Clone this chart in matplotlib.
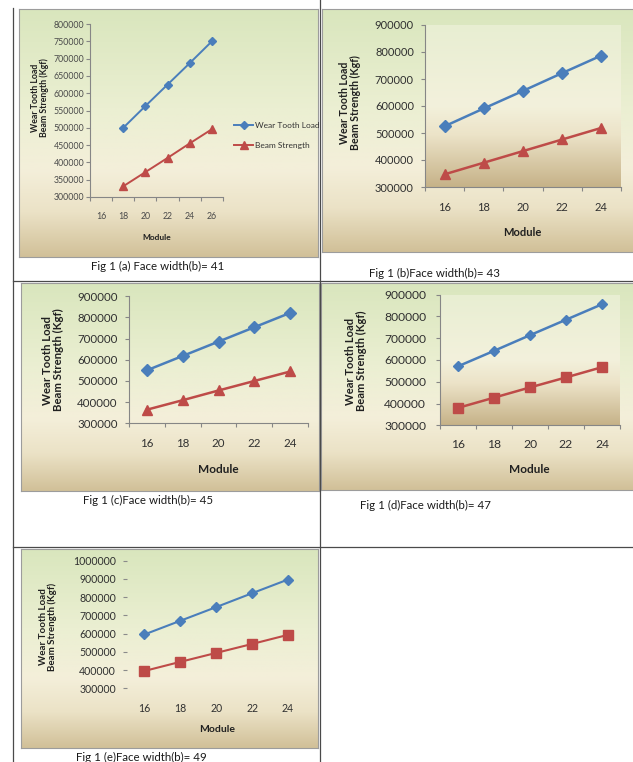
import numpy as np
import matplotlib
matplotlib.use("Agg")
import matplotlib.pyplot as plt
from matplotlib.colors import LinearSegmentedColormap
from matplotlib.lines import Line2D

plt.rcParams['font.family'] = ['Lato', 'DejaVu Sans']

W, H = 633, 762

# ---------------- data ----------------
modules_a = [16, 18, 20, 22, 24, 26]
wear_a = [np.nan, 500000, 563000, 625000, 687000, 750000]
beam_a = [np.nan, 331000, 372000, 413000, 455000, 496000]

modules = [16, 18, 20, 22, 24]
wear_b = [525000, 591000, 656000, 722000, 787000]
beam_b = [347000, 390000, 433000, 476000, 519000]
wear_c = [550000, 618000, 686000, 754000, 822000]
beam_c = [364000, 409000, 455000, 500000, 545000]
wear_d = [571000, 642000, 714000, 785000, 856000]
beam_d = [380000, 427000, 474000, 520000, 567000]
wear_e = [596000, 671000, 746000, 822000, 897000]
beam_e = [396000, 446000, 495000, 544000, 594000]

yticks_a = [300000, 350000, 400000, 450000, 500000, 550000, 600000, 650000, 700000, 750000, 800000]
yticks_bcd = [300000, 400000, 500000, 600000, 700000, 800000, 900000]
yticks_e = [300000, 400000, 500000, 600000, 700000, 800000, 900000, 1000000]

captions = ["Fig 1 (a) Face width(b)= 41", "Fig 1 (b)Face width(b)= 43",
            "Fig 1 (c)Face width(b)= 45", "Fig 1 (d)Face width(b)= 47",
            "Fig 1 (e)Face width(b)= 49"]
series_names = ["Wear Tooth Load", "Beam Strength"]
y_label = "Wear Tooth Load\nBeam Strength (Kgf)"
x_label = "Module"

BLUE = '#4a7ebb'
RED = '#be4b48'

fig = plt.figure(figsize=(W / 100, H / 100), dpi=100)
fig.patch.set_facecolor('white')


def frac(x0, y0, x1, y1):
    return [x0 / W, 1 - y1 / H, (x1 - x0) / W, (y1 - y0) / H]


bg_cmap = LinearSegmentedColormap.from_list(
    'bg', [(0, '#d9e6bd'), (0.4, '#ebefd2'), (0.65, '#f4efda'), (0.82, '#ebe2c6'), (1, '#d1c098')])
pa_cmap = LinearSegmentedColormap.from_list(
    'pa', [(0, '#e8eed2'), (0.5, '#f3f1dc'), (0.68, '#ece3c8'), (1, '#c6b288')])
grad = np.linspace(0, 1, 256).reshape(-1, 1)


def add_bg(x0, y0, x1, y1):
    bax = fig.add_axes(frac(x0, y0, x1, y1), zorder=0)
    bax.imshow(grad, aspect='auto', cmap=bg_cmap, extent=[0, 1, 0, 1], origin='upper')
    bax.set_xticks([])
    bax.set_yticks([])
    for s in bax.spines.values():
        s.set_color('#9c9c9c')
        s.set_linewidth(0.8)
    return bax


def hline(y, x0, x1):
    fig.add_artist(Line2D([x0 / W, x1 / W], [1 - y / H, 1 - y / H], transform=fig.transFigure,
                          color='#4a4a4a', lw=0.9))


def vline(x, y0, y1):
    fig.add_artist(Line2D([x / W, x / W], [1 - y0 / H, 1 - y1 / H], transform=fig.transFigure,
                          color='#4a4a4a', lw=0.9))


def panel(box, bg, xs, wear, beam, bmark, yticks, fs_tick, fs_lab, fs_mod,
          ypad, xpad, ylab_xy, mod_xy, ms_d, ms_b, lw, spines=True, inner=False, tickcol='#303030'):
    add_bg(*bg)
    x0, y0, x1, y1 = box
    ax = fig.add_axes(frac(x0, y0, x1, y1), zorder=2)
    ax.patch.set_alpha(0)
    xlim = (xs[0] - 1, xs[-1] + 1)
    ylim = (yticks[0], yticks[-1])
    if inner:
        ax.imshow(grad, aspect='auto', cmap=pa_cmap, origin='upper',
                  extent=[xlim[0], xlim[1], ylim[0], ylim[1]], zorder=0)
    ax.plot(xs, wear, color=BLUE, lw=lw, marker='D', ms=ms_d, mec=BLUE, mfc=BLUE,
            label=series_names[0], zorder=3, clip_on=False)
    ax.plot(xs, beam, color=RED, lw=lw, marker=bmark, ms=ms_b, mec=RED, mfc=RED,
            label=series_names[1], zorder=3, clip_on=False)
    ax.set_xlim(*xlim)
    ax.set_ylim(*ylim)
    ax.set_yticks(yticks)
    ax.set_yticklabels([str(v) for v in yticks], fontsize=fs_tick, color=tickcol)
    ax.set_xticks(xs)
    ax.set_xticklabels([str(v) for v in xs], fontsize=fs_tick, color=tickcol)
    ax.set_xticks([v + 1 for v in [xs[0] - 2] + list(xs)], minor=True)
    for s in ['top', 'right']:
        ax.spines[s].set_visible(False)
    if spines:
        for s in ['left', 'bottom']:
            ax.spines[s].set_color('#868686')
            ax.spines[s].set_linewidth(0.8)
        ax.tick_params(axis='y', which='major', length=3, width=0.8, color='#868686', pad=ypad)
        ax.tick_params(axis='x', which='minor', length=3, width=0.8, color='#868686')
    else:
        for s in ['left', 'bottom']:
            ax.spines[s].set_visible(False)
        ax.tick_params(axis='y', which='major', length=3, width=0.8, color='#8a8a8a', pad=ypad)
        ax.tick_params(axis='x', which='minor', length=0)
    ax.tick_params(axis='x', which='major', length=0, pad=xpad)
    ax.set_ylabel(y_label, fontsize=fs_lab, fontweight='bold', color='#202020',
                  linespacing=1.05, va='center', ha='center', multialignment='center')
    ax.yaxis.set_label_coords(ylab_xy[0] / W, 1 - ylab_xy[1] / H, transform=fig.transFigure)
    fig.text(mod_xy[0] / W, 1 - mod_xy[1] / H, x_label, fontsize=fs_mod, fontweight='bold',
             color='#202020', ha='center', va='center')
    return ax


# table lines
vline(13, 8, 762)
vline(320, 0, 762)
hline(280.5, 13, 633)
hline(547, 13, 633)

# (a)
ax_a = panel((90, 24, 223, 197), (19, 9, 318, 257), modules_a, wear_a, beam_a, '^', yticks_a,
             6.3, 6.3, 6, 1, 10.5, (40, 98), (157, 238), 4.2, 5.5, 1.4, tickcol='#4a4a4a')
ax_a.legend(loc='upper left', bbox_to_anchor=(234 / W, 1 - 122 / H), bbox_transform=fig.transFigure,
            frameon=False, fontsize=6, handlelength=2.3, handletextpad=0.2, labelspacing=1.55,
            borderpad=0, borderaxespad=0, labelcolor='#333333')

# (b)
panel((425, 25, 621, 187), (322, 9, 634, 252), modules, wear_b, beam_b, '^', yticks_bcd,
      8, 7.6, 8, 5, 11, (350, 103), (522, 232), 5.8, 7, 1.8, inner=True)

# (c)
panel((128.7, 296.3, 308.3, 423.3), (21, 283, 319, 491), modules, wear_c, beam_c, '^', yticks_bcd,
      8.3, 8.2, 8.5, 5, 10.5, (53, 360), (218, 469), 5.8, 7, 1.8)

# (d)
panel((440, 294.7, 620, 425.3), (321, 283, 634, 490), modules, wear_d, beam_d, 's', yticks_bcd,
      8.7, 8, 8.5, 7, 10, (356, 361), (529, 469), 5.5, 6.5, 1.8, inner=True)

# (e)
panel((126.5, 560.7, 306, 688.5), (21, 549, 318, 748), modules, wear_e, beam_e, 's', yticks_e,
      7.6, 7, 7.5, 4.5, 10.5, (48, 627), (217, 729), 5, 7, 1.5, spines=False)

# captions
cap_pos = [(158, 266), (434, 273), (148, 500), (425, 505), (141, 757)]
for (cx, cy), txt in zip(cap_pos, captions):
    fig.text(cx / W, 1 - cy / H, txt, fontsize=8.3, color='#1a1a1a', ha='center', va='center')

fig.savefig('out.png', dpi=100)
